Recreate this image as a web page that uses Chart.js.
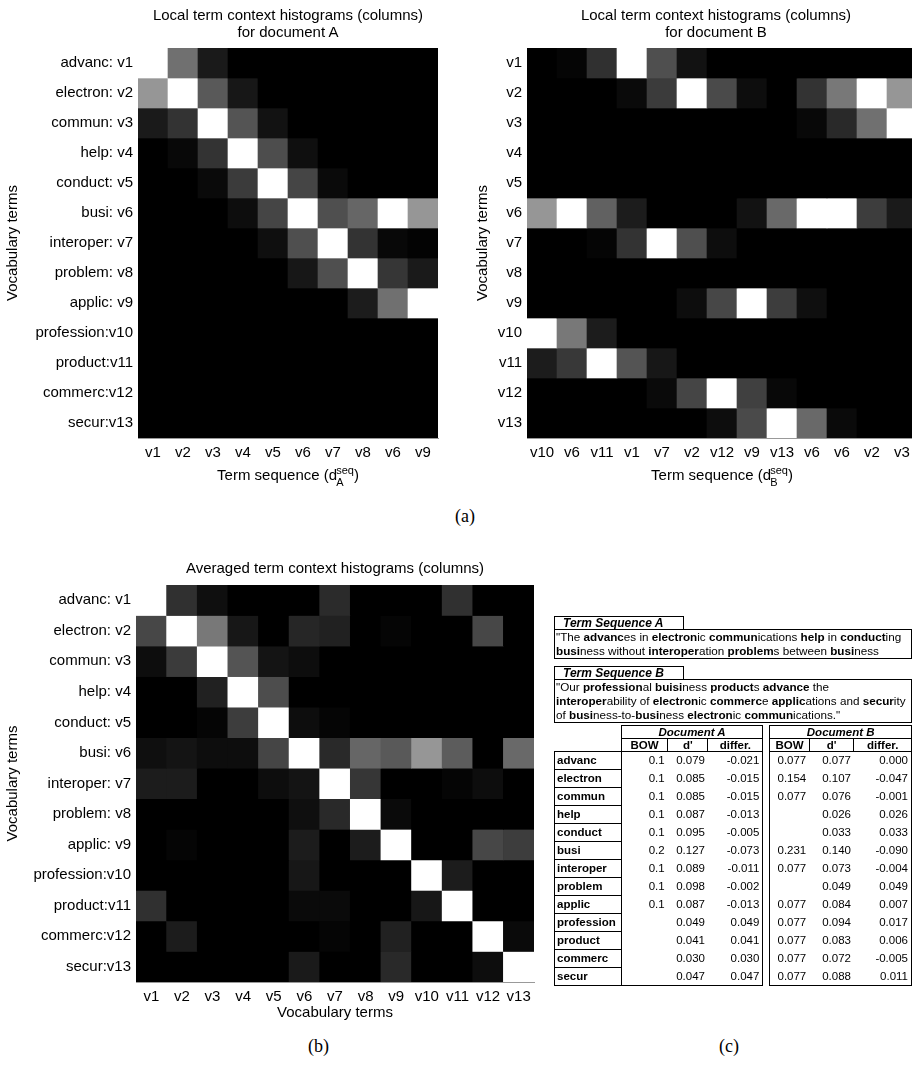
<!DOCTYPE html>
<html>
<head>
<meta charset="utf-8">
<script src="https://cdn.jsdelivr.net/npm/chart.js@4.4.1/dist/chart.umd.min.js"></script>
<style>
  body { margin: 0; width: 912px; height: 1077px; overflow: hidden; background: #fff; position: relative;
         font-family: "Liberation Sans", Arial, sans-serif; color: #000; }
  canvas { position: absolute; }
  .txt { position: absolute; font-size: 15px; line-height: 17px; text-align: center; white-space: nowrap; }
  .sub { position: absolute; font-family: "Liberation Serif", "DejaVu Serif", serif; font-size: 18px; }
  .ss { display: inline-block; vertical-align: middle; font-size: 11px; line-height: 12px; text-align: left; margin-left: -1px; }
  .box { position: absolute; border: 1px solid #000; font-size: 11.7px; line-height: 14px; white-space: nowrap; overflow: hidden; }
  .lbl { font-weight: bold; font-style: italic; padding-left: 8px; line-height: 12px; font-size: 12px; }
  table.t { position: absolute; left: 554px; top: 725px; border-collapse: collapse; table-layout: fixed; font-size: 11.5px; }
  table.t td { padding: 0 3px; white-space: nowrap; overflow: hidden; vertical-align: middle; }
  table.t tr.h td { height: 12px; line-height: 12px; }
  table.t tr.d td { height: 17px; line-height: 17px; }
  td.term { border: 1px solid #000; font-weight: bold; padding-left: 2px !important; }
  td.grp { border: 1px solid #000; font-weight: bold; font-style: italic; text-align: center; }
  td.hd { border: 1px solid #000; font-weight: bold; text-align: center; }
  td.n { text-align: right; }
  td.l { border-left: 1px solid #000; }
  td.r { border-right: 1px solid #000; }
  tr.last td.n { border-bottom: 1px solid #000; }
</style>
</head>
<body>

<canvas id="chartA" width="460" height="500" style="left:0;top:0"></canvas>
<canvas id="chartB" width="460" height="500" style="left:470px;top:0"></canvas>
<canvas id="chartAvg" width="560" height="486" style="left:0;top:540px"></canvas>

<div class="txt" style="left:88px;top:6px;width:400px">Local term context histograms (columns)<br>for document A</div>
<div class="txt" style="left:516px;top:6px;width:400px">Local term context histograms (columns)<br>for document B</div>
<div class="txt" style="left:135px;top:559px;width:400px">Averaged term context histograms (columns)</div>

<div class="txt" style="left:138px;top:464px;width:300px">Term sequence (d<span class="ss">seq<br>A</span>)</div>
<div class="txt" style="left:572px;top:464px;width:300px">Term sequence (d<span class="ss">seq<br>B</span>)</div>

<div class="sub" style="left:455px;top:506px">(a)</div>
<div class="sub" style="left:308px;top:1036px">(b)</div>
<div class="sub" style="left:719px;top:1036px">(c)</div>

<div class="box lbl" style="left:554px;top:616px;width:120px;height:12px">Term Sequence A</div>
<div class="box" style="left:554px;top:629px;width:355px;height:28px;padding-left:1px">"The <b>advanc</b>es in <b>electron</b>ic <b>commun</b>ications <b>help</b> in <b>conduct</b>ing<br><b>busi</b>ness without <b>interoper</b>ation <b>problem</b>s between <b>busi</b>ness</div>
<div class="box lbl" style="left:554px;top:666px;width:120px;height:12px">Term Sequence B</div>
<div class="box" style="left:554px;top:679px;width:355px;height:42px;padding-left:1px">"Our <b>profession</b>al <b>buisi</b>ness <b>product</b>s <b>advance</b> the<br><b>interoper</b>ability of <b>electron</b>ic <b>commerc</b>e <b>applic</b>ations and <b>secur</b>ity<br>of <b>busi</b>ness-to-<b>busi</b>ness <b>electron</b>ic <b>commun</b>ications."</div>

<table class="t" id="tbl"></table>

<script>
// ---- heatmap data (gray level 0..1, one row per vocabulary term) ----
const vocabLabels = ["advanc: v1", "electron: v2", "commun: v3", "help: v4", "conduct: v5", "busi: v6",
  "interoper: v7", "problem: v8", "applic: v9", "profession:v10", "product:v11", "commerc:v12", "secur:v13"];
const vocabShort = ["v1", "v2", "v3", "v4", "v5", "v6", "v7", "v8", "v9", "v10", "v11", "v12", "v13"];
const seqA = ["v1", "v2", "v3", "v4", "v5", "v6", "v7", "v8", "v6", "v9"];
const seqB = ["v10", "v6", "v11", "v1", "v7", "v2", "v12", "v9", "v13", "v6", "v6", "v2", "v3"];

const histA = [
  [1, .44, .10, 0, 0, 0, 0, 0, 0, 0],
  [.59, 1, .35, .09, 0, 0, 0, 0, 0, 0],
  [.10, .20, 1, .33, .07, 0, 0, 0, 0, 0],
  [0, .03, .20, 1, .30, .06, 0, 0, 0, 0],
  [0, 0, .04, .23, 1, .27, .04, 0, 0, 0],
  [0, 0, 0, .05, .27, 1, .31, .40, 1, .59],
  [0, 0, 0, 0, .06, .31, 1, .20, .03, .01],
  [0, 0, 0, 0, 0, .09, .31, 1, .21, .10],
  [0, 0, 0, 0, 0, 0, 0, .11, .44, 1],
  [0, 0, 0, 0, 0, 0, 0, 0, 0, 0],
  [0, 0, 0, 0, 0, 0, 0, 0, 0, 0],
  [0, 0, 0, 0, 0, 0, 0, 0, 0, 0],
  [0, 0, 0, 0, 0, 0, 0, 0, 0, 0]
];

const histB = [
  [0, .02, .19, 1, .31, .07, 0, 0, 0, 0, 0, 0, 0],
  [0, 0, 0, .04, .23, 1, .29, .05, 0, .20, .47, 1, .59],
  [0, 0, 0, 0, 0, 0, 0, 0, 0, .03, .16, .44, 1],
  [0, 0, 0, 0, 0, 0, 0, 0, 0, 0, 0, 0, 0],
  [0, 0, 0, 0, 0, 0, 0, 0, 0, 0, 0, 0, 0],
  [.59, 1, .38, .11, 0, 0, 0, .07, .41, 1, 1, .24, .10],
  [0, 0, .02, .20, 1, .31, .05, 0, 0, 0, 0, 0, 0],
  [0, 0, 0, 0, 0, 0, 0, 0, 0, 0, 0, 0, 0],
  [0, 0, 0, 0, 0, .05, .28, 1, .24, .06, 0, 0, 0],
  [1, .47, .11, 0, 0, 0, 0, 0, 0, 0, 0, 0, 0],
  [.11, .22, 1, .33, .09, 0, 0, 0, 0, 0, 0, 0, 0],
  [0, 0, 0, 0, .04, .27, 1, .25, .03, 0, 0, 0, 0],
  [0, 0, 0, 0, 0, 0, .05, .29, 1, .41, .04, 0, 0]
];

const histAvg = [
  [1, .19, .06, 0, 0, 0, .17, 0, 0, 0, .19, 0, 0],
  [.28, 1, .47, .09, 0, .15, .13, 0, .02, 0, 0, .28, 0],
  [.05, .23, 1, .33, .08, .05, 0, 0, 0, 0, 0, 0, 0],
  [0, 0, .13, 1, .30, 0, 0, 0, 0, 0, 0, 0, 0],
  [0, 0, .02, .24, 1, .05, .02, 0, 0, 0, 0, 0, 0],
  [.06, .08, .05, .05, .27, 1, .16, .40, .35, .59, .36, 0, .41],
  [.11, .11, 0, 0, .05, .08, 1, .21, 0, 0, .02, .05, 0],
  [0, 0, 0, 0, 0, .06, .16, 1, .04, 0, 0, 0, 0],
  [0, .02, 0, 0, 0, .11, 0, .11, 1, 0, 0, .28, .24],
  [0, 0, 0, 0, 0, .09, 0, 0, 0, 1, .11, 0, 0],
  [.19, 0, 0, 0, 0, .04, .04, 0, 0, .09, 1, 0, 0],
  [0, .11, 0, 0, 0, 0, .02, 0, .13, 0, 0, 1, .04],
  [0, 0, 0, 0, 0, .10, 0, 0, .16, 0, 0, .05, 1]
];

// ---- table (c) data ----
const tableTerms = ["advanc", "electron", "commun", "help", "conduct", "busi", "interoper", "problem",
  "applic", "profession", "product", "commerc", "secur"];
const bowA = [0.1, 0.1, 0.1, 0.1, 0.1, 0.2, 0.1, 0.1, 0.1, null, null, null, null];
const dA = [0.079, 0.085, 0.085, 0.087, 0.095, 0.127, 0.089, 0.098, 0.087, 0.049, 0.041, 0.030, 0.047];
const diffA = [-0.021, -0.015, -0.015, -0.013, -0.005, -0.073, -0.011, -0.002, -0.013, 0.049, 0.041, 0.030, 0.047];
const bowB = [0.077, 0.154, 0.077, null, null, 0.231, 0.077, null, 0.077, 0.077, 0.077, 0.077, 0.077];
const dB = [0.077, 0.107, 0.076, 0.026, 0.033, 0.140, 0.073, 0.049, 0.084, 0.094, 0.083, 0.072, 0.088];
const diffB = [0.000, -0.047, -0.001, 0.026, 0.033, -0.090, -0.004, 0.049, 0.007, 0.017, 0.006, -0.005, 0.011];

Chart.defaults.font.family = '"Liberation Sans", Arial, sans-serif';
Chart.defaults.font.size = 15;
Chart.defaults.color = "#000";

const gray = v => {
  const g = Math.round(v * 255);
  return `rgb(${g},${g},${g})`;
};

// black background behind the cells so no seams show
const blackBg = {
  id: "blackBg",
  beforeDatasetsDraw(chart) {
    const a = chart.chartArea;
    chart.ctx.save();
    chart.ctx.fillStyle = "#000";
    chart.ctx.fillRect(a.left, a.top, a.right - a.left, a.bottom - a.top);
    chart.ctx.restore();
  }
};

function heatmap(id, cols, rows, cells, box) {
  // each vocabulary row is a stacked dataset of unit cells, coloured by its value
  const datasets = rows.map((r, i) => ({
    label: r,
    data: cols.map(() => 1),
    backgroundColor: cells[i].map(gray),
    borderWidth: 0,
    barPercentage: 1,
    categoryPercentage: 1
  }));
  new Chart(document.getElementById(id), {
    type: "bar",
    data: { labels: cols, datasets: datasets },
    plugins: [blackBg],
    options: {
      responsive: false,
      animation: false,
      layout: { padding: { left: 0, top: box.top, right: box.right, bottom: 0 } },
      plugins: { legend: { display: false }, tooltip: { enabled: false } },
      scales: {
        x: {
          stacked: true,
          grid: { display: false, drawTicks: false },
          border: { display: true, color: "#999" },
          ticks: { padding: 6, autoSkip: false, maxRotation: 0 },
          title: { display: !!box.xTitle, text: box.xTitle || "", padding: { top: 0, bottom: 4 } },
          afterFit: s => { s.height = box.xh; }
        },
        y: {
          stacked: true,
          reverse: true,
          min: 0,
          max: rows.length,
          grid: { display: false, drawTicks: false },
          border: { display: true, color: "#999" },
          afterBuildTicks: s => { s.ticks = rows.map((_, i) => ({ value: i + 0.5 })); },
          ticks: { padding: 5, autoSkip: false, callback: (v, i) => rows[i] },
          title: { display: true, text: "Vocabulary terms", padding: { top: 4, bottom: 4 } },
          afterFit: s => { s.width = box.yw; }
        }
      }
    }
  });
}

heatmap("chartA", seqA, vocabLabels, histA, { top: 48, right: 22, yw: 138, xh: 62 });
heatmap("chartB", seqB, vocabShort, histB, { top: 48, right: 13, yw: 57, xh: 62 });
heatmap("chartAvg", vocabShort, vocabLabels, histAvg, { top: 45, right: 26, yw: 136, xh: 44, xTitle: "Vocabulary terms" });

// ---- build table (c) ----
const fmt = (v, d) => v === null ? "" : v.toFixed(d);
let html = '<colgroup><col style="width:67px"><col style="width:48px"><col style="width:41px"><col style="width:57px">' +
  '<col style="width:5px"><col style="width:40px"><col style="width:46px"><col style="width:60px"></colgroup>';
html += '<tr class="h"><td></td><td class="grp" colspan="3">Document A</td><td></td><td class="grp" colspan="3">Document B</td></tr>';
html += '<tr class="h"><td></td><td class="hd">BOW</td><td class="hd">d\'</td><td class="hd">differ.</td><td></td>' +
  '<td class="hd">BOW</td><td class="hd">d\'</td><td class="hd">differ.</td></tr>';
tableTerms.forEach((t, i) => {
  html += `<tr class="d${i === tableTerms.length - 1 ? ' last' : ''}"><td class="term">${t}</td>` +
    `<td class="n l">${fmt(bowA[i], 1)}</td><td class="n">${fmt(dA[i], 3)}</td><td class="n r">${fmt(diffA[i], 3)}</td><td></td>` +
    `<td class="n l">${fmt(bowB[i], 3)}</td><td class="n">${fmt(dB[i], 3)}</td><td class="n r">${fmt(diffB[i], 3)}</td></tr>`;
});
document.getElementById("tbl").innerHTML = html;
</script>
</body>
</html>
